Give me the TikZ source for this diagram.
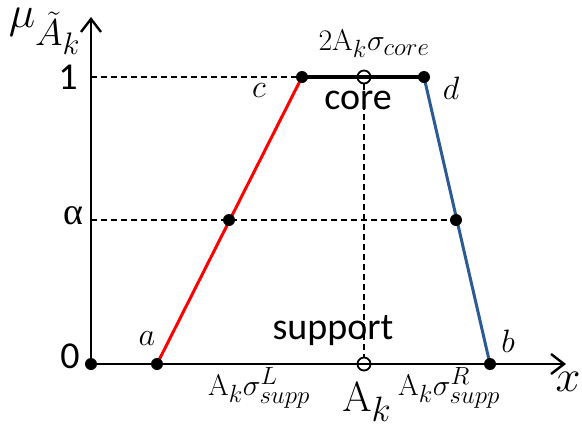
\documentclass[tikz,border=0pt]{standalone}
\usepackage[no-math]{fontspec}
\setmainfont{Carlito}
\newfontfamily\serifgreek{Liberation Serif}
\usepackage{graphicx}
\usepackage{tikz}
\usetikzlibrary{arrows.meta,backgrounds}
\definecolor{leftc}{HTML}{FF0000}
\definecolor{rightc}{HTML}{2C5A94}
\newcommand{\mlab}[2]{\scalebox{#1}{$#2$}}
\tikzset{
  dot/.style={circle, fill=black, inner sep=0pt, minimum size=12pt},
  hole/.style={circle, draw=black, line width=1.8pt, inner sep=0pt, minimum size=13pt},
  axis/.style={line width=2.6pt, -{Straight Barb[length=13pt,width=20pt,line width=2.4pt]}},
  guide/.style={line width=1.8pt, dash pattern=on 6pt off 4pt},
  big/.style={font=\fontsize{38}{40}\selectfont},
  sym/.style={font=\fontsize{24.88}{26}\selectfont, inner sep=0pt}
}
\begin{document}
\begin{tikzpicture}[x=1pt, y=-1pt]
  \useasboundingbox (0,0) rectangle (582,429);
  % points of the trapezoid
  \node[dot] (o) at (91,364) {};
  \node[dot] (a) at (157,364) {};
  \node[dot] (b) at (490,364) {};
  \node[dot] (c) at (302,77) {};
  \node[dot] (d) at (424,77) {};
  \node[dot] (al) at (229,220) {};
  \node[dot] (ar) at (456,220) {};
  \node[hole] (top) at (364,77) {};
  \node[hole] (mid) at (364,364) {};
  \coordinate (ytip) at (91,17);
  \coordinate (xtip) at (566,364);
  \coordinate (one) at (91,77);
  \coordinate (alpha) at (91,220);
  \begin{scope}[on background layer]
    \draw[guide] (one) -- (c);
    \draw[guide] (alpha) -- (ar);
    \draw[guide] (top) -- (mid);
    \draw[axis] (o.center) -- (ytip);
    \draw[axis] (o.center) -- (xtip);
    \draw[leftc, line width=3pt] (a.center) -- (c.center);
    \draw[rightc, line width=3pt] (d.center) -- (b.center);
    \draw[line width=3.2pt] (c.center) -- (d.center);
  \end{scope}
  % labels
  \node[sym] (mu) at (45,31) {\mlab{1.8}{\mu_{\tilde{A}_k}}};
  \node[big] (l1) at (68,77) {1};
  \node[big] (la) at (73,216) {\serifgreek α};
  \node[big] (l0) at (70,356) {0};
  \node[sym] (lc) at (259,91) {\mlab{1.3}{c}};
  \node[sym] (ld) at (451,88) {\mlab{1.3}{d}};
  \node[sym] (lla) at (147,339) {\mlab{1.3}{a}};
  \node[sym] (llb) at (508,341) {\mlab{1.3}{b}};
  \node[big] (core) at (358,100) {core};
  \node[big] (supp) at (333,331) {support};
  \node[sym] (wcore) at (374,44) {\mlab{1.2}{2\mathrm{A}_k\sigma_{core}}};
  \node[sym] (wl) at (259,388) {\mlab{1.2}{\mathrm{A}_k\sigma^{L}_{supp}}};
  \node[sym] (wr) at (449,388) {\mlab{1.2}{\mathrm{A}_k\sigma^{R}_{supp}}};
  \node[sym] (ak) at (367,402) {\mlab{1.7}{\mathrm{A}_k}};
  \node[sym] (lx) at (568,382) {\mlab{1.8}{x}};
\end{tikzpicture}
\end{document}
